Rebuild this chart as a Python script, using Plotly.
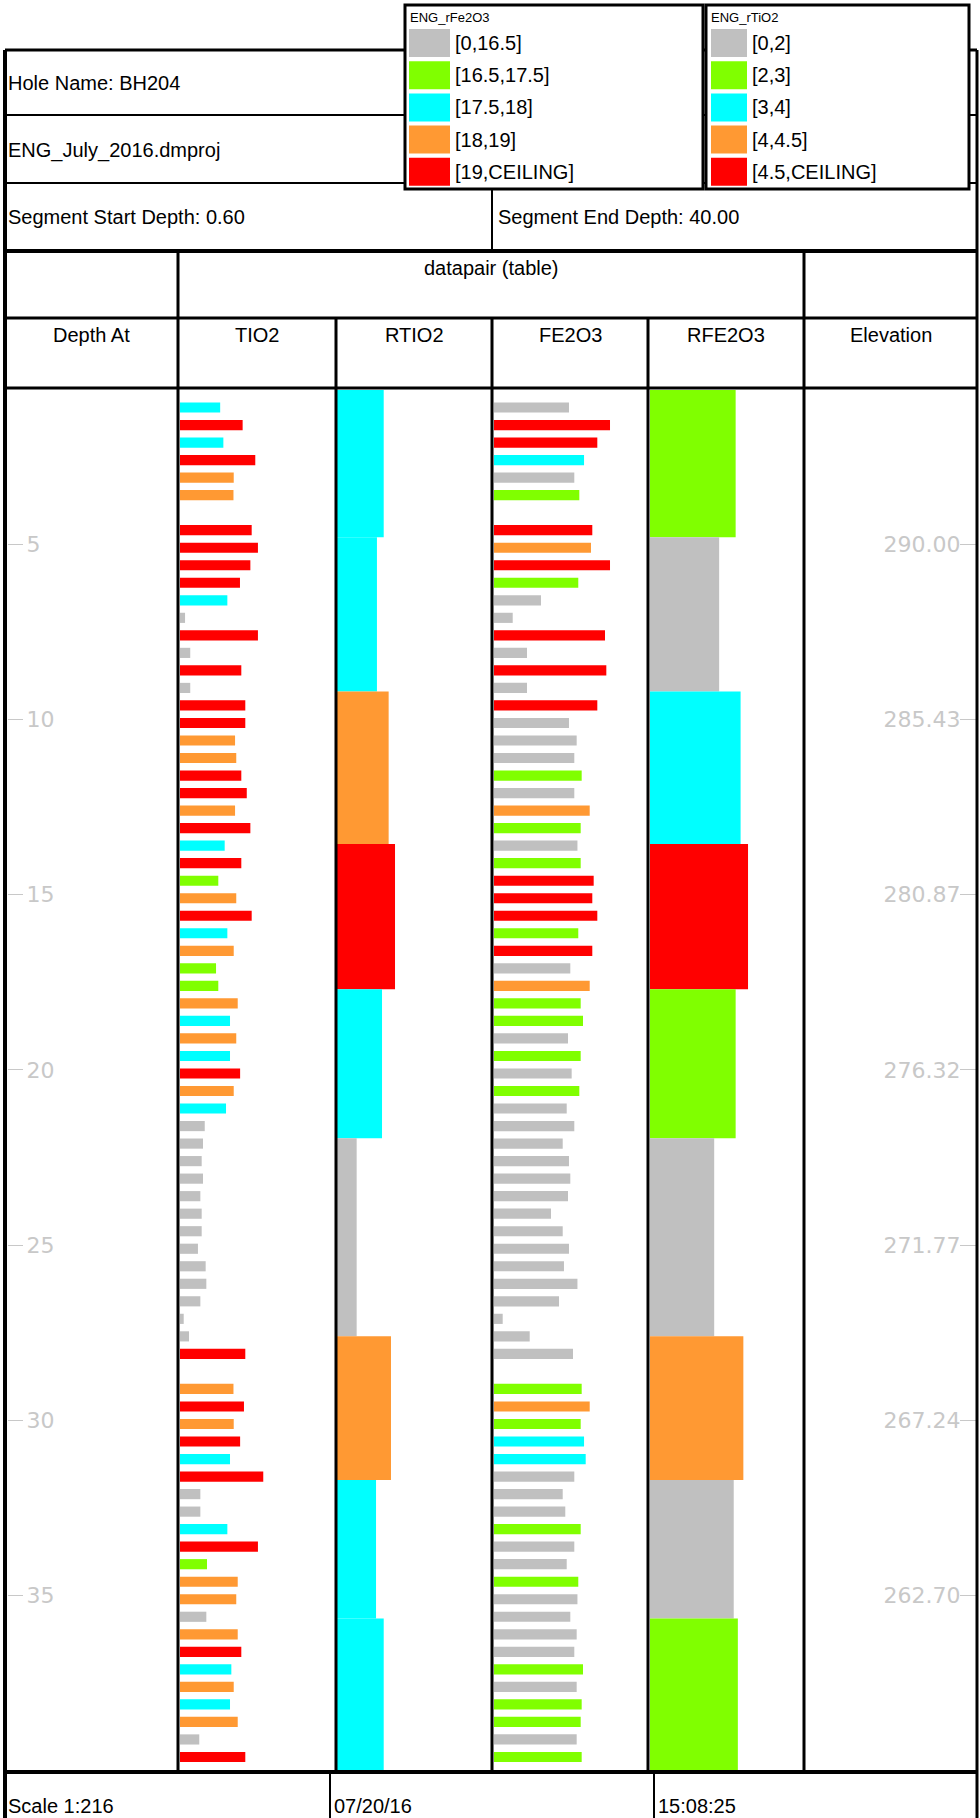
import plotly.graph_objects as go

W, H = 980, 1818

# assay sample depths (m), shared by TIO2 and FE2O3
depths = [1.1, 1.6, 2.1, 2.6, 3.1, 3.6,
          4.6, 5.1, 5.6, 6.1, 6.6, 7.1, 7.6, 8.1, 8.6, 9.1, 9.6, 10.1, 10.6, 11.1,
          11.6, 12.1, 12.6, 13.1, 13.6, 14.1, 14.6, 15.1, 15.6, 16.1, 16.6, 17.1, 17.6, 18.1, 18.6, 19.1,
          19.6, 20.1, 20.6, 21.1,
          21.6, 22.1, 22.6, 23.1, 23.6, 24.1, 24.6, 25.1, 25.6, 26.1, 26.6, 27.1, 27.6, 28.1,
          29.1, 29.6, 30.1, 30.6, 31.1, 31.6, 32.1, 32.6, 33.1, 33.6, 34.1, 34.6, 35.1, 35.6, 36.1, 36.6,
          37.1, 37.6, 38.1, 38.6, 39.1, 39.6]

tio2 = [3.02, 4.71, 3.26, 5.66, 4.04, 4.02,
        5.39, 5.86, 5.29, 4.51, 3.56, 0.38, 5.86, 0.77, 4.61, 0.77, 4.91, 4.91, 4.14, 4.23,
        4.61, 5.02, 4.14, 5.29, 3.36, 4.61, 2.88, 4.23, 5.39, 3.56, 4.04, 2.71, 2.88, 4.34, 3.76, 4.23,
        3.76, 4.52, 4.04, 3.46,
        1.86, 1.73, 1.63, 1.73, 1.53, 1.63, 1.63, 1.35, 1.93, 1.98, 1.53, 0.28, 0.68, 4.91,
        4.02, 4.81, 4.04, 4.52, 3.76, 6.26, 1.53, 1.53, 3.56, 5.86, 2.03, 4.34, 4.23, 1.98, 4.34, 4.61,
        3.86, 4.04, 3.76, 4.34, 1.45, 4.91]

fe2o3 = [14.86, 22.32, 20.01, 17.6, 15.83, 16.74,
         19.1, 18.86, 22.32, 16.55, 9.77, 4.63, 21.41, 7.23, 21.65, 7.23, 20.01, 14.86, 16.26, 15.83,
         17.17, 15.83, 18.63, 16.99, 16.4, 16.99, 19.35, 19.1, 20.01, 16.55, 19.1, 15.1, 18.63, 16.99,
         17.41, 14.68, 16.99, 15.35, 16.74, 14.45,
         15.83, 13.72, 14.86, 15.1, 14.68, 11.59, 13.72, 14.86, 13.95, 16.4, 13.05, 2.81, 7.72, 15.59,
         17.17, 18.63, 16.99, 17.6, 17.9, 15.83, 13.72, 14.19, 16.99, 15.83, 14.45, 16.55, 16.4, 15.1,
         16.26, 15.83, 17.41, 16.26, 17.17, 16.99, 16.26, 17.17]

# composited intervals
comp_depths = [0.6, 4.8, 9.2, 13.55, 17.7, 21.95, 27.6, 31.7, 35.65, 40.0]
rtio2 = [3.67, 3.15, 4.05, 4.54, 3.54, 1.59, 4.23, 3.08, 3.67]
rfe2o3 = [16.8, 13.8, 17.7, 19.05, 16.8, 12.9, 18.2, 16.45, 17.2]

depth_ticks = [5, 10, 15, 20, 25, 30, 35]
elev_labels = ["290.00", "285.43", "280.87", "276.32", "271.77", "267.24", "262.70"]

fe_bins = [0, 16.5, 17.5, 18, 19]
fe_labels = ["[0,16.5]", "[16.5,17.5]", "[17.5,18]", "[18,19]", "[19,CEILING]"]
ti_bins = [0, 2, 3, 4, 4.5]
ti_labels = ["[0,2]", "[2,3]", "[3,4]", "[4,4.5]", "[4.5,CEILING]"]
bin_colors = ["#c0c0c0", "#80ff00", "#00ffff", "#ff9933", "#ff0000"]

FONT = "Liberation Sans"
TICK_GREY = "#c8c8c8"


def colour(v, bins):
    idx = 0
    for i, b in enumerate(bins):
        if v >= b:
            idx = i
    return bin_colors[idx]


def px(x):
    return x / W


def py(y):
    return 1 - y / H


mids = [(a + b) / 2 for a, b in zip(comp_depths[:-1], comp_depths[1:])]
lens = [b - a for a, b in zip(comp_depths[:-1], comp_depths[1:])]

fig = go.Figure()
fig.add_trace(go.Bar(x=tio2, y=depths, orientation="h", width=0.29, xaxis="x", yaxis="y",
                     marker=dict(color=[colour(v, ti_bins) for v in tio2], line_width=0)))
fig.add_trace(go.Bar(x=rtio2, y=mids, orientation="h", width=lens, xaxis="x2", yaxis="y",
                     marker=dict(color=[colour(v, ti_bins) for v in rtio2], line_width=0)))
fig.add_trace(go.Bar(x=fe2o3, y=depths, orientation="h", width=0.29, xaxis="x3", yaxis="y",
                     marker=dict(color=[colour(v, fe_bins) for v in fe2o3], line_width=0)))
fig.add_trace(go.Bar(x=rfe2o3, y=mids, orientation="h", width=lens, xaxis="x4", yaxis="y",
                     marker=dict(color=[colour(v, fe_bins) for v in rfe2o3], line_width=0)))
# dummies so the depth / elevation axes get drawn
fig.add_trace(go.Scatter(x=[None], y=[None], xaxis="x", yaxis="y2", hoverinfo="skip"))
fig.add_trace(go.Scatter(x=[None], y=[None], xaxis="x", yaxis="y3", hoverinfo="skip"))

yrange = [40, 0.6]
ydom = [py(1771), py(390)]
tick_font = dict(family="DejaVu Sans", size=22, color=TICK_GREY)

fig.update_layout(
    width=W, height=H, margin=dict(l=0, r=0, t=0, b=0),
    paper_bgcolor="white", plot_bgcolor="rgba(0,0,0,0)",
    showlegend=False, font=dict(family=FONT, size=20, color="black"),
    xaxis=dict(domain=[px(180), px(334)], range=[0, 154 / 13.3], visible=False, anchor="y", fixedrange=True),
    xaxis2=dict(domain=[px(336), px(490)], range=[0, 154 / 13.0], visible=False, anchor="y", fixedrange=True),
    xaxis3=dict(domain=[px(494), px(646)], range=[6.75 / 5.5, 158.75 / 5.5], visible=False, anchor="y",
                fixedrange=True),
    xaxis4=dict(domain=[px(650), px(803)], range=[6.75 / 5.5, 159.75 / 5.5], visible=False, anchor="y",
                fixedrange=True),
    yaxis=dict(domain=ydom, range=yrange, visible=False, anchor="x", fixedrange=True),
    yaxis2=dict(overlaying="y", anchor="free", position=px(7), side="left", range=yrange,
                tickvals=depth_ticks, ticks="inside", ticklen=15, tickwidth=1, tickcolor=TICK_GREY,
                ticklabelposition="inside", ticklabelstandoff=5, tickfont=tick_font,
                showgrid=False, zeroline=False, showline=False, fixedrange=True),
    yaxis3=dict(overlaying="y", anchor="free", position=px(977), side="right", range=yrange,
                tickvals=depth_ticks, ticktext=elev_labels, ticks="inside", ticklen=17, tickwidth=1,
                tickcolor=TICK_GREY, ticklabelposition="inside", ticklabelstandoff=1, tickfont=tick_font,
                showgrid=False, zeroline=False, showline=False, fixedrange=True),
)

shapes = []


def line(x0, y0, x1, y1, w=3):
    shapes.append(dict(type="line", xref="paper", yref="paper", x0=px(x0), x1=px(x1), y0=py(y0), y1=py(y1),
                       line=dict(color="black", width=w), layer="above"))


# header rows
line(5, 50, 977, 50, 3)
line(5, 115, 977, 115, 2)
line(5, 183, 977, 183, 2)
line(5, 251, 977, 251, 4)
line(5, 318, 977, 318, 3)
line(5, 388, 977, 388, 3)
line(5, 1772, 977, 1772, 4)
# verticals
line(5, 50, 5, 1818, 4)
line(977, 50, 977, 1818, 3)
line(492, 183, 492, 251, 2)
line(178, 251, 178, 1772, 3)
line(804, 251, 804, 1772, 3)
for xc in [336, 492, 648]:
    line(xc, 318, xc, 1772, 3)
line(330, 1774, 330, 1818, 2)
line(654, 1774, 654, 1818, 2)

annotations = []


def text(s, x, y, size=20, xanchor="left", colour_="black"):
    annotations.append(dict(text=s, x=px(x), y=py(y), xref="paper", yref="paper", showarrow=False,
                            xanchor=xanchor, yanchor="middle", font=dict(family=FONT, size=size, color=colour_)))


# legend boxes
for (bx0, bx1, sw0, sw1, title, labels) in [(405, 703, 409, 450, "ENG_rFe2O3", fe_labels),
                                              (706, 969, 711, 747, "ENG_rTiO2", ti_labels)]:
    shapes.append(dict(type="rect", xref="paper", yref="paper", x0=px(bx0), x1=px(bx1), y0=py(189), y1=py(5),
                       fillcolor="white", line=dict(color="black", width=3), layer="above"))
    text(title, bx0 + 3, 17, size=13)
    for i, lab in enumerate(labels):
        top = 29 + i * 32.2
        shapes.append(dict(type="rect", xref="paper", yref="paper", x0=px(sw0), x1=px(sw1),
                           y0=py(top + 28), y1=py(top), fillcolor=bin_colors[i], line_width=0, layer="above"))
        text(lab, sw1 + 3, top + 14)

text("Hole Name: BH204", 6, 83)
text("ENG_July_2016.dmproj", 6, 150)
text("Segment Start Depth: 0.60", 6, 217)
text("Segment End Depth: 40.00", 496, 217)
text("datapair (table)", 491, 268, xanchor="center")
for lab, x0, x1 in [("Depth At", 5, 178), ("TIO2", 178, 336), ("RTIO2", 336, 492), ("FE2O3", 492, 648),
                    ("RFE2O3", 648, 804), ("Elevation", 804, 977)]:
    text(lab, (x0 + x1) / 2, 335, xanchor="center")
text("Scale 1:216", 6, 1806)
text("07/20/16", 332, 1806)
text("15:08:25", 656, 1806)

fig.update_layout(shapes=shapes, annotations=annotations)

fig.write_html("out.html", config={"displayModeBar": False},
               post_script="document.body.style.margin='0';")
